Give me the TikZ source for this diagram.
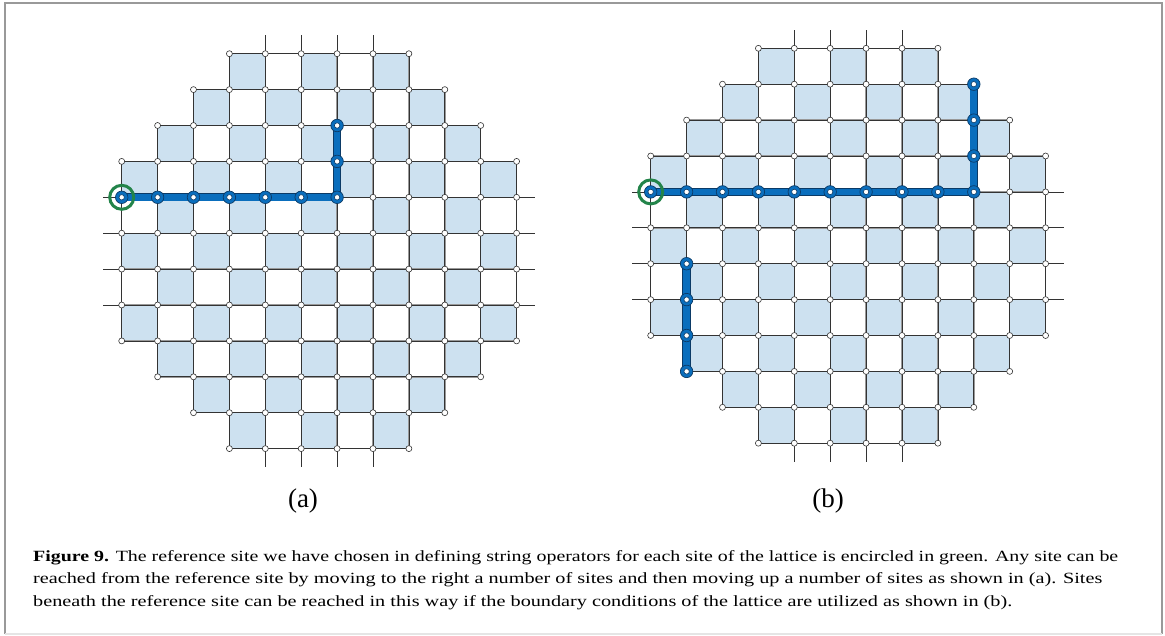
\documentclass[tikz,border=0pt]{standalone}
\usepackage{fontspec}
\setmainfont{Liberation Serif}
\usepackage{graphicx}
\usetikzlibrary{backgrounds}
\definecolor{plaqblue}{HTML}{CDE1F0}
\definecolor{pathblue}{HTML}{0A6EBD}
\definecolor{pathdark}{HTML}{0B3A66}
\definecolor{refgreen}{HTML}{23844A}

\newcommand{\mylattice}[3]{%
  \begin{scope}[shift={(#2,#3)}]
    \foreach \j in {0,...,11}{
      \pgfmathtruncatemacro\lo{lmin(\j)}
      \pgfmathtruncatemacro\hi{11-\lo}
      \foreach \i in {\lo,...,\hi}{
        \node[site] (#1-\i-\j) at (\i*35.9,\j*35.9) {};
      }
    }
  \end{scope}
  \begin{scope}[on background layer]
    % shaded plaquettes
    \foreach \j in {0,...,10}{
      \pgfmathtruncatemacro\jj{\j+1}
      \pgfmathtruncatemacro\lo{max(lmin(\j),lmin(\jj))}
      \pgfmathtruncatemacro\hi{10-\lo}
      \foreach \i in {\lo,...,\hi}{
        \pgfmathtruncatemacro\pty{mod(\i+\j,2)}
        \pgfmathtruncatemacro\ii{\i+1}
        \ifnum\pty=1
          \path[plaq] (#1-\i-\j.center) rectangle (#1-\ii-\jj.center);
        \fi
      }
    }
    % horizontal bonds
    \foreach \j in {0,...,11}{
      \pgfmathtruncatemacro\lo{lmin(\j)}
      \pgfmathtruncatemacro\hi{11-\lo}
      \draw[bond] (#1-\lo-\j.center) -- (#1-\hi-\j.center);
    }
    % vertical bonds
    \foreach \i in {0,...,11}{
      \pgfmathtruncatemacro\lo{lmin(\i)}
      \pgfmathtruncatemacro\hi{11-\lo}
      \draw[bond] (#1-\i-\lo.center) -- (#1-\i-\hi.center);
    }
    % boundary stubs
    \foreach \k in {4,...,7}{
      \draw[bond] (#1-\k-0.center) -- ++(0,-18.5);
      \draw[bond] (#1-\k-11.center) -- ++(0,18.5);
      \draw[bond] (#1-0-\k.center) -- ++(-18.5,0);
      \draw[bond] (#1-11-\k.center) -- ++(18.5,0);
    }
  \end{scope}
}

\begin{document}
\begin{tikzpicture}[x=1pt,y=-1pt,
  declare function={lmin(\k)=max(0,3-min(\k,11-\k));},
  site/.style={circle, inner sep=0pt, minimum size=6pt, fill=white, draw=black!80, line width=0.6pt},
  pathsite/.style={circle, inner sep=0pt, minimum size=12.5pt, fill=pathblue, draw=pathdark, line width=0.7pt,
    path picture={\draw[fill=white, draw=pathdark, line width=0.6pt] (path picture bounding box.center) circle (2.7pt);}},
  bond/.style={draw=black!80, line width=0.7pt},
  plaq/.style={fill=plaqblue, draw=black!40, line width=1.4pt},
  string/.style={draw=pathdark, line width=0.8pt, double=pathblue, double distance=6.7pt},
  refring/.style={circle, inner sep=0pt, minimum size=24pt, draw=refgreen, line width=3pt},
  lab/.style={font=\fontsize{27}{30}\selectfont, inner sep=0pt},
  capline/.style={anchor=base west, inner sep=0pt, font=\fontsize{15.6}{18}\selectfont},
]
\useasboundingbox (0,0) rectangle (1165,635);

% frame
\draw[draw=black!40, line width=2pt] (5,634) -- (5,3) -- (1162,3) -- (1162,634);
\draw[draw=black!10, line width=1.2pt] (5,634) -- (1162,634);

% panel (a)
\mylattice{a}{121.7}{53.7}
\draw[string] (a-0-4.center) -- (a-6-4.center) -- (a-6-2.center);
\foreach \i in {0,...,6}{ \node[pathsite] (a-p-\i-4) at (a-\i-4) {}; }
\foreach \j in {2,3}{ \node[pathsite] (a-p-6-\j) at (a-6-\j) {}; }
\node[refring] (a-ref) at (a-0-4) {};

% panel (b)
\mylattice{b}{650.7}{48.3}
\draw[string] (b-0-4.center) -- (b-9-4.center) -- (b-9-1.center);
\draw[string] (b-1-6.center) -- (b-1-9.center);
\foreach \i in {0,...,9}{ \node[pathsite] (b-p-\i-4) at (b-\i-4) {}; }
\foreach \j in {1,2,3}{ \node[pathsite] (b-p-9-\j) at (b-9-\j) {}; }
\foreach \j in {6,...,9}{ \node[pathsite] (b-p-1-\j) at (b-1-\j) {}; }
\node[refring] (b-ref) at (b-0-4) {};

% labels
\node[lab] (la) at (303,500.5) {(a)};
\node[lab] (lb) at (828,500.5) {(b)};

% caption
\node[capline] (cap1) at (33,561) {\resizebox{1085pt}{\height}{\textbf{Figure 9.} The reference site we have chosen in defining string operators for each site of the lattice is encircled in green. Any site can be}};
\node[capline] (cap2) at (33,583.5) {\resizebox{1069pt}{\height}{reached from the reference site by moving to the right a number of sites and then moving up a number of sites as shown in (a). Sites}};
\node[capline] (cap3) at (33,606) {\resizebox{979pt}{\height}{beneath the reference site can be reached in this way if the boundary conditions of the lattice are utilized as shown in (b).}};
\end{tikzpicture}
\end{document}
